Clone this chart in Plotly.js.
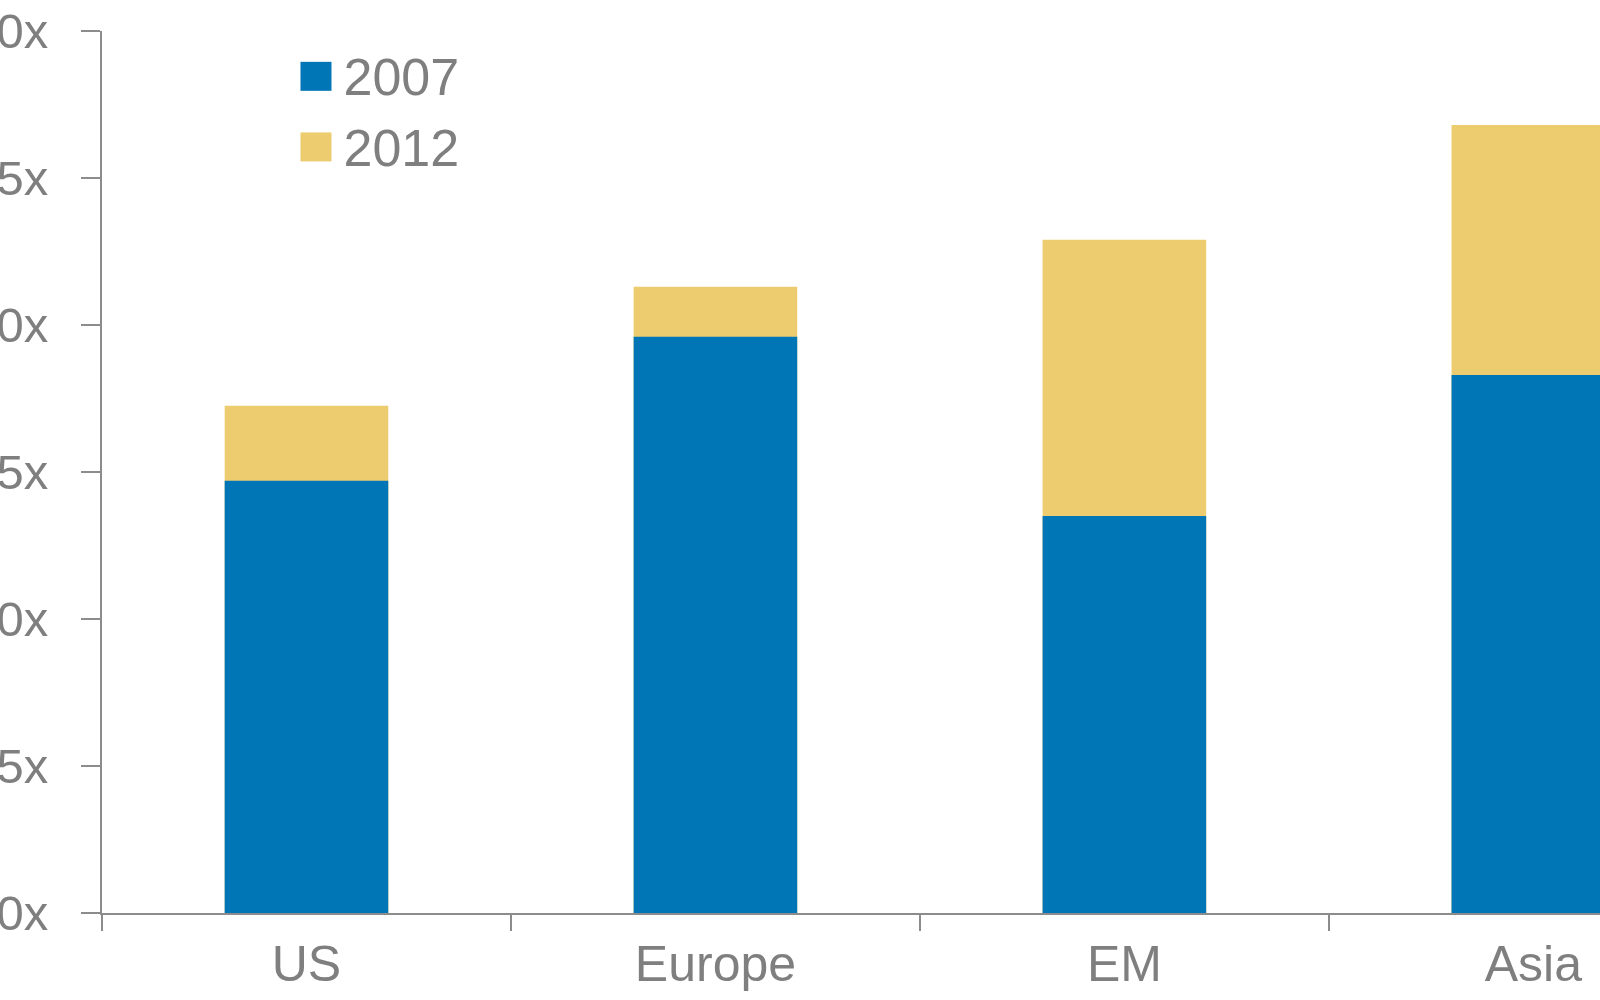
<!DOCTYPE html>
<html>
<head>
<meta charset="utf-8">
<script src="https://cdn.plot.ly/plotly-3.0.1.min.js"></script>
<style>
  html, body { margin: 0; padding: 0; background: #ffffff; overflow: hidden; }
  #chart { width: 1600px; height: 1000px; }
</style>
</head>
<body>
<div id="chart"></div>
<script>
// ---- data ----
const categories = ["US", "Europe", "EM", "Asia"];
const values2007 = [14.7, 19.6, 13.5, 18.3];
const values2012 = [17.25, 21.3, 22.9, 26.8];
const yTickValues = [0, 5, 10, 15, 20, 25, 30];
const yTickLabels = ["0x", "5x", "10x", "15x", "20x", "25x", "30x"];

const BLUE = "#0076B6";
const GOLD = "#EDCC70";
const GREY_TEXT = "#7f7f7f";
const AXIS = "#8c8c8c";
const FONT = "Liberation Sans, Arial, sans-serif";

const traces = [
  {
    type: "bar", name: "2012", x: categories, y: values2012,
    marker: { color: GOLD }, width: 0.4, hoverinfo: "skip"
  },
  {
    type: "bar", name: "2007", x: categories, y: values2007,
    marker: { color: BLUE }, width: 0.4, hoverinfo: "skip"
  }
];

const layout = {
  width: 1600, height: 1000,
  margin: { l: 102, r: 0, t: 31, b: 87, pad: 0 },
  paper_bgcolor: "#ffffff", plot_bgcolor: "#ffffff",
  barmode: "overlay",
  font: { family: FONT, size: 50, color: GREY_TEXT },
  showlegend: true,
  legend: {
    x: 0.1345, xanchor: "left", y: 0.996, yanchor: "top",
    traceorder: "reversed", itemwidth: 30,
    font: { family: FONT, size: 52, color: GREY_TEXT },
    bgcolor: "rgba(0,0,0,0)"
  },
  xaxis: {
    type: "category", range: [-0.5, 3.163], fixedrange: true,
    showline: true, linecolor: AXIS, linewidth: 2,
    ticks: "outside", tickson: "boundaries", ticklen: 16, tickwidth: 2, tickcolor: AXIS,
    showgrid: false, zeroline: false,
    tickfont: { family: FONT, size: 50, color: GREY_TEXT },
    ticklabelstandoff: 6
  },
  yaxis: {
    range: [0, 30], fixedrange: true,
    tickmode: "array", tickvals: yTickValues, ticktext: yTickLabels,
    showline: true, linecolor: AXIS, linewidth: 2,
    ticks: "outside", ticklen: 19, tickwidth: 2, tickcolor: AXIS,
    showgrid: false, zeroline: false,
    tickfont: { family: FONT, size: 49, color: GREY_TEXT },
    ticklabelstandoff: 23
  }
};

Plotly.newPlot("chart", traces, layout, { displayModeBar: false, staticPlot: true }).then(function (gd) {
  // the legend clips at its left edge; lift the clip so the big swatches show whole
  gd.querySelectorAll(".legend [clip-path], .legend .scrollbox").forEach(function (el) {
    el.removeAttribute("clip-path");
  });
  // enlarge legend swatches to match the reference's big squares
  gd.querySelectorAll(".legend .legendpoints path").forEach(function (p) {
    p.removeAttribute("transform");
    p.setAttribute("d", "M28,16H-3V-13H28Z");
  });
});
</script>
</body>
</html>
